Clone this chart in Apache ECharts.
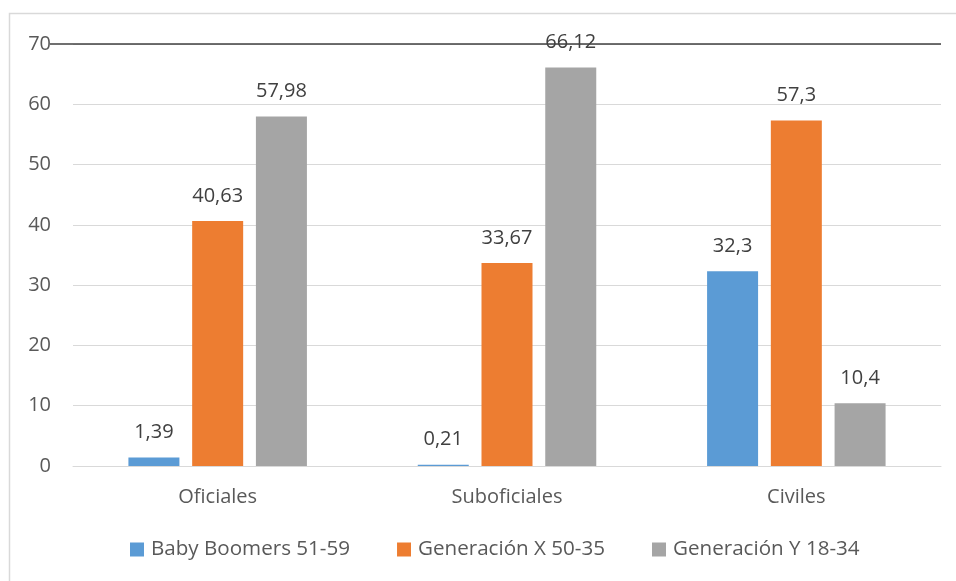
<!DOCTYPE html>
<html>
<head>
<meta charset="utf-8">
<script src="https://cdn.jsdelivr.net/npm/echarts@6/dist/echarts.min.js"></script>
<style>
html,body{margin:0;padding:0;background:#fff;}
#c{width:956px;height:581px;}
</style>
</head>
<body>
<div id="c"></div>
<script>
const categories = ['Oficiales', 'Suboficiales', 'Civiles'];
const seriesNames = ['Baby Boomers 51-59', 'Generación X 50-35', 'Generación Y 18-34'];
const babyBoomers = [1.39, 0.21, 32.3];
const generacionX = [40.63, 33.67, 57.3];
const generacionY = [57.98, 66.12, 10.4];
const colors = ['#5B9BD5', '#ED7D31', '#A5A5A5'];
const FONT = '"Open Sans", "Noto Sans", sans-serif';
const FS = 20;

const chart = echarts.init(document.getElementById('c'), null, {renderer: 'canvas'});
const fmt = p => String(p.value).replace('.', ',');
function mk(name, data, color) {
  return {
    name, type: 'bar', data, barWidth: 51, barGap: '25%',
    itemStyle: {color},
    label: {show: true, position: 'top', distance: 15, formatter: fmt,
      color: '#404040', fontSize: FS, fontFamily: FONT}
  };
}
chart.setOption({
  animation: false,
  grid: {left: 73, right: 15, top: 44, bottom: 115},
  legend: {
    bottom: 16, left: 125, itemWidth: 14, itemHeight: 14, itemGap: 47,
    icon: 'rect',
    textStyle: {color: '#595959', fontSize: 20.6, fontFamily: FONT, padding: [0, 0, 0, 2]},
    data: seriesNames
  },
  xAxis: {
    type: 'category', data: categories,
    axisTick: {show: false},
    axisLine: {lineStyle: {color: '#d9d9d9', width: 1}},
    axisLabel: {color: '#595959', fontSize: FS, fontFamily: FONT, margin: 21}
  },
  yAxis: {
    type: 'value', min: 0, max: 70, interval: 10,
    axisLine: {show: false}, axisTick: {show: false},
    axisLabel: {color: '#595959', fontSize: FS, fontFamily: FONT, margin: 22},
    splitLine: {lineStyle: {color: '#d9d9d9', width: 1}}
  },
  series: [
    mk(seriesNames[0], babyBoomers, colors[0]),
    mk(seriesNames[1], generacionX, colors[1]),
    mk(seriesNames[2], generacionY, colors[2])
  ]
});
const yTop = chart.convertToPixel({yAxisIndex: 0}, 70);
const xRight = 956 - 15;
chart.setOption({
  graphic: [
    {type: 'rect', z: -10, silent: true, shape: {x: 9.5, y: 13.5, width: 960, height: 620},
      style: {fill: 'none', stroke: '#d9d9d9', lineWidth: 1.5}},
    {type: 'line', z: 0, silent: true, shape: {x1: 50, y1: yTop, x2: xRight, y2: yTop},
      style: {stroke: '#404040', lineWidth: 1.5}}
  ]
});
</script>
</body>
</html>
